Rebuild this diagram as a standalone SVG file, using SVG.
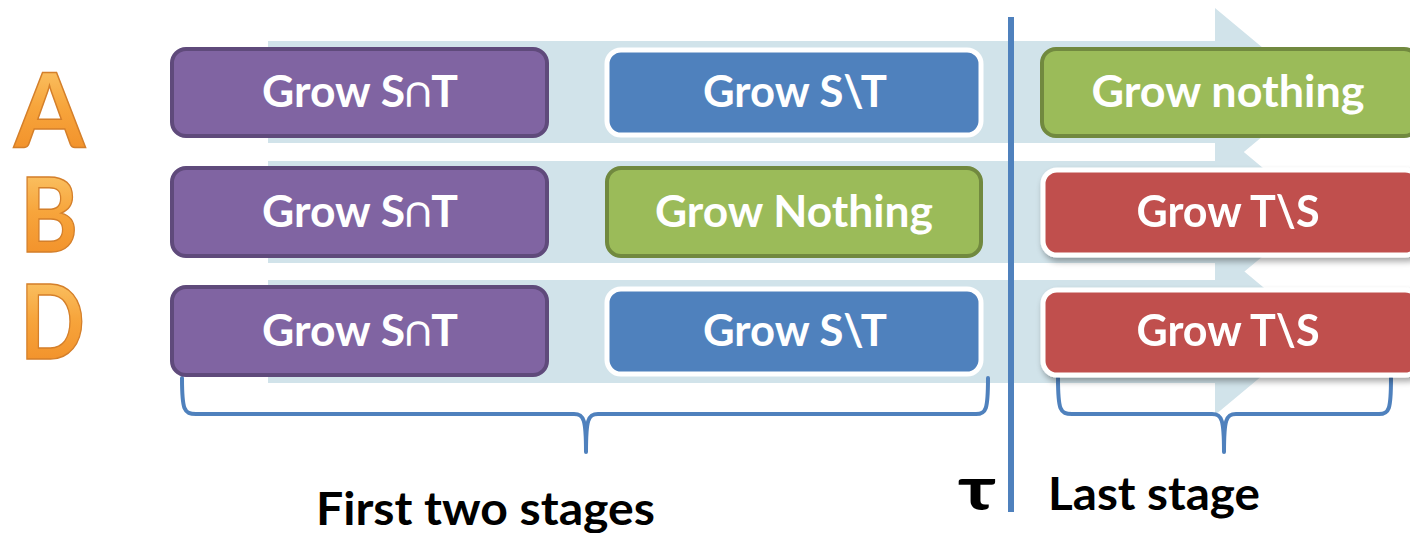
<svg xmlns="http://www.w3.org/2000/svg" width="1410" height="533" viewBox="0 0 1410 533">
<style>
.band{fill:#d1e3ea}
.lbl{font-family:Lato,"Open Sans",sans-serif;font-weight:bold;font-size:44px;fill:#ffffff;text-anchor:middle}
.purple{fill:#8064a2;stroke:#5f4a7b;stroke-width:4}
.blue{fill:#4f81bd;stroke:#ffffff;stroke-width:5}
.green{fill:#9bbb59;stroke:#71893f;stroke-width:4}
.red{fill:#c0504d;stroke:#ffffff;stroke-width:5}
.letter{font-family:Lato,"Open Sans",sans-serif;font-weight:bold;font-size:104px;fill:url(#org);stroke:#d47f2a;stroke-width:1.5}
.brace{fill:none;stroke:#4f81bd;stroke-width:4;stroke-linecap:round;stroke-linejoin:round}
.cap{font-family:Lato,"Open Sans",sans-serif;font-weight:bold;fill:#000000}
</style>
<defs>
<linearGradient id="org" x1="0" y1="0" x2="0" y2="1">
<stop offset="0" stop-color="#fcd27a"/>
<stop offset="0.5" stop-color="#f7a53c"/>
<stop offset="1" stop-color="#f08a24"/>
</linearGradient>
<filter id="sh" x="-5%" y="-10%" width="112%" height="130%">
<feGaussianBlur in="SourceAlpha" stdDeviation="3"/>
<feOffset dx="2" dy="4" result="b"/>
<feComponentTransfer><feFuncA type="linear" slope="0.35"/></feComponentTransfer>
<feMerge><feMergeNode/><feMergeNode in="SourceGraphic"/></feMerge>
</filter>
</defs>
<g id="connectors">
<path class="band" d="M268,41 H1215 V8 L1316,92 L1215,176 V143 H268 Z"/>
<path class="band" d="M268,161 H1215 V128 L1316,212 L1215,296 V263 H268 Z"/>
<path class="band" d="M268,280 H1215 V247 L1316,331 L1215,415 V383 H268 Z"/>
<line x1="1011" y1="17" x2="1011" y2="512" stroke="#4f81bd" stroke-width="6"/>
<path class="brace" d="M182,378 C182,410 184,414 196,414 H574 C584,414 586,420 586,452 C586,420 588,414 598,414 H976 C986,414 988,410 988,378"/>
<path class="brace" d="M1058,378 C1058,410 1060,414 1072,414 H1212 C1222,414 1224,420 1224,452 C1224,420 1226,414 1236,414 H1379 C1389,414 1391,410 1391,378"/>
</g>
<g id="letterA"><text class="letter" x="14" y="147" textLength="71" lengthAdjust="spacingAndGlyphs">A</text></g>
<g id="letterB"><text class="letter" x="20" y="252" textLength="58" lengthAdjust="spacingAndGlyphs">B</text></g>
<g id="letterD"><text class="letter" x="20" y="359" textLength="65" lengthAdjust="spacingAndGlyphs">D</text></g>
<g id="a1"><rect class="purple" x="172" y="49" width="375" height="87" rx="14"/><text class="lbl" x="360" y="107" textLength="196" lengthAdjust="spacingAndGlyphs">Grow S∩T</text></g>
<g id="a2"><rect class="blue" x="607" y="50" width="374" height="85" rx="14"/><text class="lbl" x="795" y="107" textLength="184" lengthAdjust="spacingAndGlyphs">Grow S\T</text></g>
<g id="a3"><rect class="green" x="1042" y="49" width="376" height="87" rx="14"/><text class="lbl" x="1228" y="107" textLength="273" lengthAdjust="spacingAndGlyphs">Grow nothing</text></g>
<g id="b1"><rect class="purple" x="172" y="168" width="375" height="88" rx="14"/><text class="lbl" x="360" y="227" textLength="196" lengthAdjust="spacingAndGlyphs">Grow S∩T</text></g>
<g id="b2"><rect class="green" x="607" y="168" width="374" height="88" rx="14"/><text class="lbl" x="794" y="227" textLength="278" lengthAdjust="spacingAndGlyphs">Grow Nothing</text></g>
<g id="b3" filter="url(#sh)"><rect class="red" x="1043" y="170" width="376" height="85" rx="14"/><text class="lbl" x="1228" y="227" textLength="183" lengthAdjust="spacingAndGlyphs">Grow T\S</text></g>
<g id="d1"><rect class="purple" x="172" y="287" width="375" height="88" rx="14"/><text class="lbl" x="360" y="346" textLength="196" lengthAdjust="spacingAndGlyphs">Grow S∩T</text></g>
<g id="d2"><rect class="blue" x="607" y="289" width="374" height="85" rx="14"/><text class="lbl" x="795" y="346" textLength="184" lengthAdjust="spacingAndGlyphs">Grow S\T</text></g>
<g id="d3" filter="url(#sh)"><rect class="red" x="1043" y="290" width="376" height="85" rx="14"/><text class="lbl" x="1228" y="346" textLength="183" lengthAdjust="spacingAndGlyphs">Grow T\S</text></g>
<g id="labels">
<text class="cap" x="316" y="525" font-size="45" textLength="339" lengthAdjust="spacingAndGlyphs">First two stages</text>
<text class="cap" x="1048" y="510" font-size="45" textLength="212" lengthAdjust="spacingAndGlyphs">Last stage</text>
<text class="cap" x="958" y="510" font-size="62" textLength="38" lengthAdjust="spacingAndGlyphs">τ</text>
</g>
</svg>
